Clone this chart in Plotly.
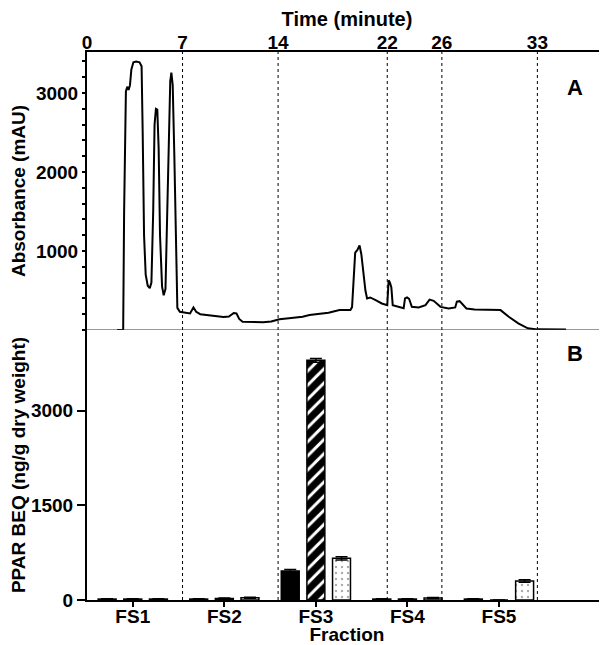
import plotly.graph_objects as go

# ---- Panel A: chromatogram (time in minutes, absorbance in mAU) ----
time_min = [2.2, 2.65, 2.72, 2.78, 2.85, 2.95, 3.05, 3.15, 3.25, 3.4, 3.6, 3.85, 4.0,
            4.08, 4.18, 4.3, 4.45, 4.6, 4.72, 4.85, 4.95, 5.05, 5.15, 5.25, 5.35, 5.5,
            5.62, 5.75, 5.85, 5.98, 6.1, 6.18, 6.28, 6.4, 6.52, 6.62, 6.8, 7.2, 7.55,
            7.8, 8.0, 8.3, 8.7, 9.3, 10.0, 10.4, 10.75, 10.95, 11.15, 11.4, 12.2, 12.9,
            13.5, 14.1, 14.8, 15.8, 16.3, 17.0, 17.7, 18.5, 19.3, 19.42, 19.55, 19.65,
            19.8, 19.97, 20.1, 20.25, 20.4, 20.52, 20.75, 21.15, 21.6, 22.0, 22.05,
            22.1, 22.2, 22.3, 22.4, 22.7, 23.2, 23.3, 23.45, 23.6, 23.8, 24.3, 24.8,
            25.1, 25.4, 25.9, 26.5, 26.98, 27.1, 27.3, 27.45, 27.8, 28.4, 29.4, 30.3,
            30.9, 31.6, 32.3, 33.0, 35.1]
absorbance = [0, 0, 1500, 2700, 3020, 3080, 3040, 3100, 3300, 3390, 3400, 3390, 3340,
              2500, 1200, 700, 560, 530, 600, 1500, 2600, 2800, 2790, 2300, 1200, 550,
              440, 520, 1300, 2600, 3150, 3260, 3100, 2200, 900, 280, 230, 215, 210,
              285, 230, 200, 190, 175, 165, 170, 215, 210, 140, 105, 98, 97,
              108, 135, 150, 168, 189, 200, 218, 252, 252, 290, 700, 980,
              1010, 1070, 960, 700, 500, 400, 412, 378, 336, 315, 560,
              630, 600, 540, 315, 302, 275, 400, 412, 395, 293, 286, 315,
              385, 369, 293, 273, 286, 360, 365, 340, 273, 260, 260, 252,
              168, 84, 21, 8, 5]

time_ticks = [0, 7, 14, 22, 26, 33]
fraction_bounds = [7, 14, 22, 26, 33]
abs_ticks = [1000, 2000, 3000]

# ---- Panel B: PPAR BEQ per fraction ----
fractions = ["FS1", "FS2", "FS3", "FS4", "FS5"]
beq_solid = [15, 15, 460, 15, 15]
beq_solid_err = [5, 5, 25, 5, 5]
beq_hatched = [15, 25, 3800, 15, 0]
beq_hatched_err = [5, 8, 30, 5, 0]
beq_dotted = [15, 35, 660, 30, 300]
beq_dotted_err = [5, 8, 25, 8, 20]
beq_ticks = [0, 1500, 3000]

FONT = "Liberation Sans, Arial, sans-serif"
f19 = dict(family=FONT, size=19, color="black", weight="bold")

fig = go.Figure()

fig.add_trace(go.Scatter(x=time_min, y=absorbance, mode="lines",
                         line=dict(color="black", width=2),
                         xaxis="x", yaxis="y", showlegend=False))

bar_common = dict(xaxis="x2", yaxis="y2", showlegend=False)
fig.add_trace(go.Bar(x=fractions, y=beq_solid, name="solid",
                     marker=dict(color="black", line=dict(color="black", width=1.5)),
                     error_y=dict(type="data", array=beq_solid_err, color="black",
                                  thickness=1.5, width=6), **bar_common))
fig.add_trace(go.Bar(x=fractions, y=beq_hatched, name="hatched",
                     marker=dict(color="white", line=dict(color="black", width=1.5),
                                 pattern=dict(shape="/", fgcolor="black", bgcolor="white",
                                              fgopacity=1, size=10, solidity=0.7)),
                     error_y=dict(type="data", array=beq_hatched_err, color="black",
                                  thickness=1.5, width=6), **bar_common))
fig.add_trace(go.Bar(x=fractions, y=beq_dotted, name="dotted",
                     marker=dict(color="white", line=dict(color="black", width=1.5),
                                 pattern=dict(shape=".", fgcolor="#555555", bgcolor="white",
                                              size=6, solidity=0.12)),
                     error_y=dict(type="data", array=beq_dotted_err, color="black",
                                  thickness=1.5, width=6), **bar_common))

split = 270 / 548.0

shapes = []
for b in fraction_bounds:
    shapes.append(dict(type="line", xref="x", yref="paper", x0=b, x1=b, y0=0, y1=1,
                       line=dict(color="black", width=1, dash="dot")))
shapes.append(dict(type="line", xref="paper", yref="y", x0=0, x1=1, y0=0, y1=0,
                   line=dict(color="#333333", width=1)))

# page body has an 8px default margin, so the figure is offset by 8px
fig.update_layout(
    width=599, height=637,
    margin=dict(l=79, r=0, t=44, b=45),
    paper_bgcolor="white", plot_bgcolor="white",
    font=f19,
    barmode="group", bargap=0.16, bargroupgap=0.3,
    shapes=shapes,
    xaxis=dict(domain=[0, 1], anchor="y", side="top", range=[0, 38.1], automargin=False,
               tickmode="array", tickvals=time_ticks, ticks="", showgrid=False,
               ticklabelstandoff=-7,
               zeroline=False, showline=True, linewidth=2, linecolor="black",
               tickfont=f19, title=dict(text="Time (minute)", font=dict(family=FONT, size=20, color="black", weight="bold"), standoff=12)),
    yaxis=dict(domain=[split, 1], anchor="x", range=[0, 3520], automargin=False,
               tickmode="array", tickvals=abs_ticks, ticks="outside", ticklen=3,
               tickwidth=1.5, tickcolor="black",
               minor=dict(dtick=200, ticks="outside", ticklen=3, tickwidth=1.5, tickcolor="black", showgrid=False),
               showgrid=False, zeroline=False, showline=True, linewidth=2, linecolor="black",
               tickfont=f19, title=dict(text="Absorbance (mAU)", font=f19, standoff=8)),
    xaxis2=dict(domain=[0, 1], anchor="y2", type="category", range=[-0.5, 5.18], automargin=False,
                ticks="outside", ticklen=5, tickwidth=2, tickcolor="black", ticklabelstandoff=-7,
                showgrid=False, zeroline=False, showline=True, linewidth=2, linecolor="black",
                tickfont=f19, title=dict(text="Fraction", font=f19, standoff=6)),
    yaxis2=dict(domain=[0, split], anchor="x2", range=[0, 4280], automargin=False,
                tickmode="array", tickvals=beq_ticks, ticks="outside", ticklen=8,
                tickwidth=1.5, tickcolor="black",
                showgrid=False, zeroline=False, showline=True, linewidth=2, linecolor="black",
                tickfont=f19, title=dict(text="PPAR BEQ (ng/g dry weight)", font=f19, standoff=8)),
    annotations=[
        dict(text="A", xref="paper", yref="paper", x=0.958, y=(600 - 73) / 548.0,
             showarrow=False, font=dict(family=FONT, size=22, color="black", weight="bold")),
        dict(text="B", xref="paper", yref="paper", x=0.958, y=(600 - 353) / 548.0,
             showarrow=False, font=dict(family=FONT, size=22, color="black", weight="bold")),
    ],
)

fig.write_html("out.html")
